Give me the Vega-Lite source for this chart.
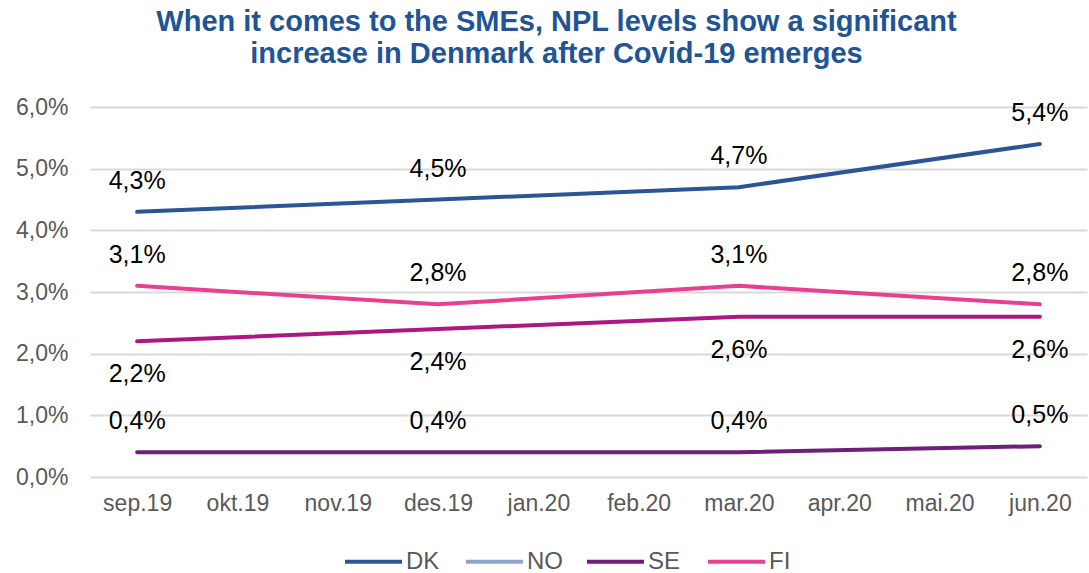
{
  "$schema": "https://vega.github.io/schema/vega-lite/v6.json",
  "autosize": "none",
  "width": 997,
  "height": 370,
  "padding": {"left": 90, "top": 107, "right": 2, "bottom": 96},
  "background": "white",
  "config": {
    "locale": {"number": {"decimal": ",", "thousands": ".", "grouping": [3], "currency": ["", " kr"]}},
    "font": "Liberation Sans",
    "view": {"stroke": null}
  },
  "title": {
    "text": ["When it comes to the SMEs, NPL levels show a significant", "increase in Denmark after Covid-19 emerges"],
    "font": "Liberation Sans",
    "fontSize": 29,
    "fontWeight": "bold",
    "color": "#215495",
    "lineHeight": 32,
    "anchor": "middle",
    "dx": -32,
    "offset": 27
  },
  "data": {
    "values": [
      {"month": "sep.19", "series": "DK", "value": 0.043},
      {"month": "des.19", "series": "DK", "value": 0.045},
      {"month": "mar.20", "series": "DK", "value": 0.047},
      {"month": "jun.20", "series": "DK", "value": 0.054},
      {"month": "sep.19", "series": "NO", "value": 0.022},
      {"month": "des.19", "series": "NO", "value": 0.024},
      {"month": "mar.20", "series": "NO", "value": 0.026},
      {"month": "jun.20", "series": "NO", "value": 0.026},
      {"month": "sep.19", "series": "SE", "value": 0.004},
      {"month": "des.19", "series": "SE", "value": 0.004},
      {"month": "mar.20", "series": "SE", "value": 0.004},
      {"month": "jun.20", "series": "SE", "value": 0.005},
      {"month": "sep.19", "series": "FI", "value": 0.031},
      {"month": "des.19", "series": "FI", "value": 0.028},
      {"month": "mar.20", "series": "FI", "value": 0.031},
      {"month": "jun.20", "series": "FI", "value": 0.028}
    ]
  },
  "encoding": {
    "x": {
      "field": "month",
      "type": "ordinal",
      "sort": null,
      "scale": {"type": "point", "padding": 0.47, "domain": ["sep.19", "okt.19", "nov.19", "des.19", "jan.20", "feb.20", "mar.20", "apr.20", "mai.20", "jun.20"]},
      "axis": {"title": null, "labelAngle": 0, "domain": false, "ticks": false, "grid": false, "labelFontSize": 23, "labelColor": "#595959", "labelPadding": 15, "labelFont": "Liberation Sans"}
    },
    "y": {
      "field": "value",
      "type": "quantitative",
      "scale": {"domain": [0, 0.06], "nice": false},
      "axis": {"title": null, "format": ".1%", "values": [0, 0.01, 0.02, 0.03, 0.04, 0.05, 0.06], "domain": false, "ticks": false, "grid": true, "gridColor": "#D9D9D9", "gridWidth": 2, "labelFontSize": 23, "labelColor": "#595959", "labelPadding": 22, "labelFont": "Liberation Sans"}
    }
  },
  "layer": [
    {
      "mark": {"type": "line", "strokeWidth": 4, "strokeCap": "round"},
      "encoding": {
        "color": {
          "field": "series",
          "type": "nominal",
          "scale": {"domain": ["DK", "NO", "SE", "FI"], "range": ["#2C5597", "#AE1681", "#6E1F79", "#E8408F"]},
          "legend": null
        },
        "detail": {"field": "series"}
      }
    },
    {
      "transform": [{"filter": "datum.series !== 'NO'"}],
      "mark": {"type": "text", "dy": -31, "fontSize": 25, "color": "#000000", "font": "Liberation Sans"},
      "encoding": {"text": {"field": "value", "type": "quantitative", "format": ".1%"}}
    },
    {
      "transform": [{"filter": "datum.series === 'NO'"}],
      "mark": {"type": "text", "dy": 33, "fontSize": 25, "color": "#000000", "font": "Liberation Sans"},
      "encoding": {"text": {"field": "value", "type": "quantitative", "format": ".1%"}}
    },
    {
      "transform": [{"filter": "datum.month === 'sep.19'"}],
      "mark": {"type": "line", "strokeWidth": 4},
      "encoding": {
        "color": {
          "field": "series",
          "type": "nominal",
          "scale": {"domain": ["DK", "NO", "SE", "FI"], "range": ["#2C5597", "#8FA4CC", "#6E1F79", "#E8408F"]},
          "legend": {
            "title": null,
            "orient": "none",
            "direction": "horizontal",
            "columns": 4,
            "gridAlign": "all",
            "legendX": 253,
            "legendY": 424,
            "symbolType": "stroke",
            "symbolSize": 3249,
            "symbolStrokeWidth": 4,
            "symbolOpacity": 1,
            "labelFontSize": 24,
            "labelColor": "#595959",
            "labelFont": "Liberation Sans",
            "labelOffset": 2,
            "columnPadding": 16
          }
        }
      }
    }
  ],
  "resolve": {"scale": {"color": "independent"}}
}
